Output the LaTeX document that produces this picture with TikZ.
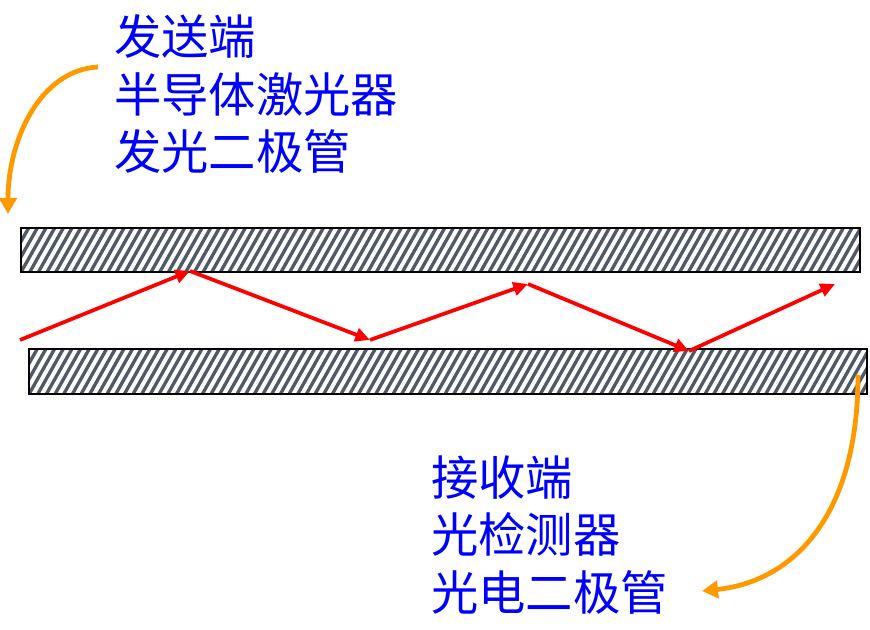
\documentclass[tikz,border=0pt]{standalone}
\usepackage{fontspec}
\newfontfamily\cjk{Noto Sans CJK SC}
\usetikzlibrary{arrows.meta}
\definecolor{hatchgray}{HTML}{4F5A66}
\definecolor{rayred}{HTML}{FF0000}
\definecolor{orangearr}{HTML}{FF9900}
\tikzset{
  fiber/.style={draw=black, line width=1.6pt, fill=white, inner sep=0pt, anchor=north west,
    path picture={
      \foreach \i in {-4,...,100}
        \draw[hatchgray, line width=2.5pt]
          ([xshift=\i*6.5pt]path picture bounding box.south west) -- ++(26,-46);
    }},
  ray/.style={rayred, line width=2.8pt, -{Triangle[length=11pt,width=10pt]}},
  orangecurve/.style={orangearr, line width=3.6pt, -{Triangle[length=12pt,width=13pt]}},
  cjklabel/.style={text=blue, font=\cjk\fontsize{35.5}{43}\selectfont, align=left, inner sep=0pt, anchor=west}
}
\begin{document}
\begin{tikzpicture}[x=0.75pt,y=-0.75pt]
\useasboundingbox (0,0) rectangle (870,630);
\node[fiber, minimum width=839*0.75pt, minimum height=44*0.75pt] (topbar) at (20,227) {};
\node[fiber, minimum width=838*0.75pt, minimum height=45*0.75pt] (botbar) at (28,348) {};
\node[cjklabel] (sendtxt) at (114,94) {发送端\\半导体激光器\\发光二极管};
\node[cjklabel] (recvtxt) at (431,535) {接收端\\光检测器\\光电二极管};
\coordinate (r0) at (20,340);
\coordinate (r1) at (190,271);
\coordinate (r2) at (370,340);
\coordinate (r3) at (528,284);
\coordinate (r4) at (689,351);
\coordinate (r5) at (835,284);
\draw[ray] (r0) -- (r1);
\draw[ray] (r1) -- (r2);
\draw[ray] (r2) -- (r3);
\draw[ray] (r3) -- (r4);
\draw[ray] (r4) -- (r5);
\coordinate (s0) at (98,67);
\coordinate (s1) at (8,214);
\draw[orangecurve] (s0) .. controls (40,70) and (8,140) .. (s1);
\coordinate (e0) at (858,375);
\coordinate (e1) at (702,591);
\draw[orangecurve] (e0) .. controls (858,520) and (790,582) .. (e1);
\end{tikzpicture}
\end{document}
